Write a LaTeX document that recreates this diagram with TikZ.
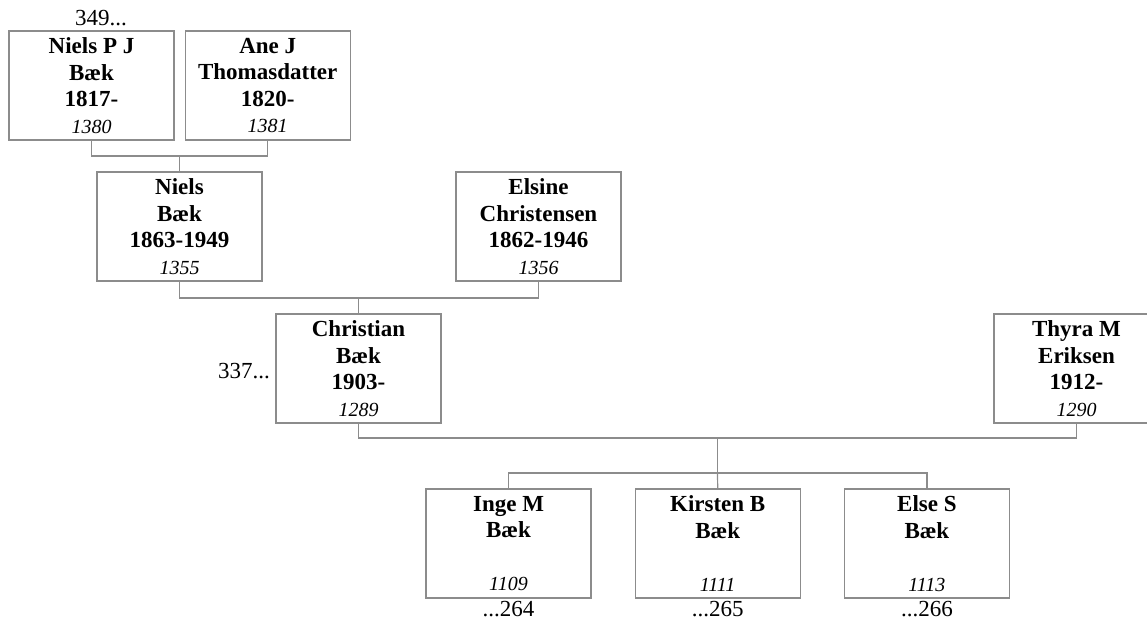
\documentclass[tikz,border=0pt]{standalone}
\usepackage{fontspec}
\setmainfont{Liberation Serif}
\usetikzlibrary{positioning}
\definecolor{boxgray}{HTML}{8C8C8C}
\newcommand{\pid}[1]{{\normalfont\itshape\fontsize{20}{26.5}\selectfont #1}}

\begin{document}
\begin{tikzpicture}[x=1pt,y=-1pt,person/.style={draw=boxgray,line width=1.2pt,align=center,inner sep=0pt,minimum width=165pt,minimum height=109pt,font=\fontsize{23}{26.5}\selectfont\bfseries},link/.style={draw=boxgray,line width=1.2pt},num/.style={inner sep=0pt,font=\fontsize{23}{26.5}\selectfont}]
\useasboundingbox (0,0) rectangle (1147,621);
% great-grandparents
\node[person] (niels1) at (91.5,85.5) {Niels P J\\Bæk\\1817-\\\pid{1380}};
\node[person,right=10pt of niels1] (ane) {Ane J\\Thomasdatter\\1820-\\\pid{1381}};
% grandparents
\node[person] (niels2) at (179.5,226.5) {Niels\\Bæk\\1863-1949\\\pid{1355}};
\node[person] (elsine) at (538.5,226.5) {Elsine\\Christensen\\1862-1946\\\pid{1356}};
% parents
\node[person] (christian) at (358.5,368.5) {Christian\\Bæk\\1903-\\\pid{1289}};
\node[person] (thyra) at (1076.5,368.5) {Thyra M\\Eriksen\\1912-\\\pid{1290}};
% children
\node[person] (inge) at (508.5,543.5) {Inge M\\Bæk\\\mbox{}\\\pid{1109}};
\node[person,right=43pt of inge] (kirsten) {Kirsten B\\Bæk\\\mbox{}\\\pid{1111}};
\node[person,right=43pt of kirsten] (else) {Else S\\Bæk\\\mbox{}\\\pid{1113}};
% page references
\node[num,anchor=base] (up1380) at (101,25) {349...};
\node[num,anchor=base east] (up1289) at (270,378) {337...};
\node[num,anchor=base] (dn1109) at ([yshift=-18pt]inge.south) {...264};
\node[num,anchor=base] (dn1111) at ([yshift=-18pt]kirsten.south) {...265};
\node[num,anchor=base] (dn1113) at ([yshift=-18pt]else.south) {...266};
% family lines
\coordinate (j1) at (179.5,156);
\coordinate (j2) at (358.5,298);
\coordinate (j3) at (717.5,438);
\coordinate (j4) at (717.5,473);
\draw[link] (niels1.south) |- (j1) -| (ane.south);
\draw[link] (j1) -- (niels2.north);
\draw[link] (niels2.south) |- (j2) -| (elsine.south);
\draw[link] (j2) -- (christian.north);
\draw[link] (christian.south) |- (j3) -| (thyra.south);
\draw[link] (j3) -- (j4);
\draw[link] (inge.north) |- (j4) -| (else.north);
\draw[link] (j4) -- (kirsten.north);
\end{tikzpicture}
\end{document}
